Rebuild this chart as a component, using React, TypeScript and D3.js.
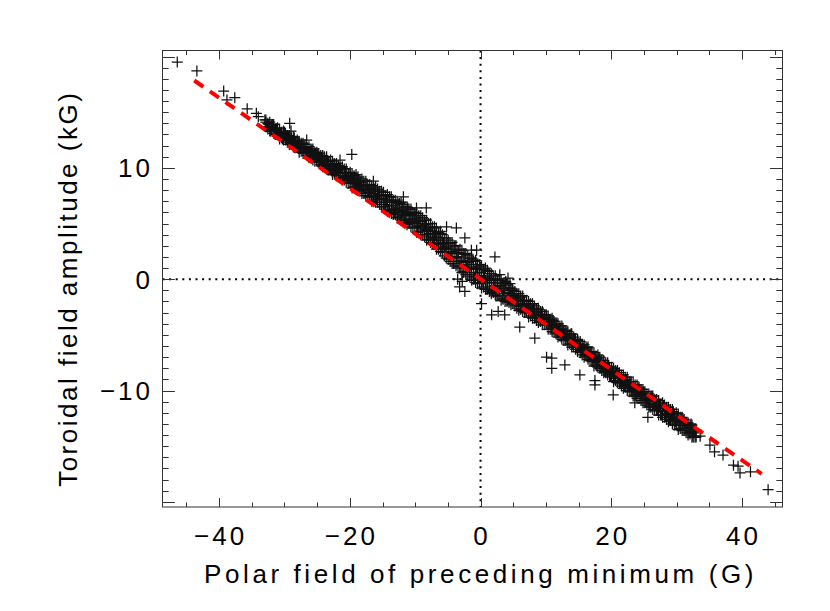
import React, { useEffect, useRef } from 'react';
import * as d3 from 'd3';

// polar field of the preceding minimum (G), one value per sample
const polarField = [
  // band, x < -25
  -33.0, -32.7, -32.4, -32.1, -31.8, -31.5, -31.2, -30.9, -30.6, -30.3, -30.0, -29.7, -29.4, -29.1,
  -28.8, -28.5, -28.2, -27.9, -27.6, -27.3, -27.0, -26.7, -26.4, -26.1, -25.8, -25.5, -25.2,
  // band, -25 .. -15
  -24.9, -24.65, -24.4, -24.15, -23.9, -23.65, -23.4, -23.15, -22.9, -22.65, -22.4, -22.15, -21.9, -21.65,
  -21.4, -21.15, -20.9, -20.65, -20.4, -20.15, -19.9, -19.65, -19.4, -19.15, -18.9, -18.65, -18.4, -18.15,
  -17.9, -17.65, -17.4, -17.15, -16.9, -16.65, -16.4, -16.15, -15.9, -15.65, -15.4, -15.15,
  // band, -15 .. -5
  -14.9, -14.65, -14.4, -14.15, -13.9, -13.65, -13.4, -13.15, -12.9, -12.65, -12.4, -12.15, -11.9, -11.65,
  -11.4, -11.15, -10.9, -10.65, -10.4, -10.15, -9.9, -9.65, -9.4, -9.15, -8.9, -8.65, -8.4, -8.15,
  -7.9, -7.65, -7.4, -7.15, -6.9, -6.65, -6.4, -6.15, -5.9, -5.65, -5.4, -5.15,
  // band, -5 .. 5
  -4.9, -4.65, -4.4, -4.15, -3.9, -3.65, -3.4, -3.15, -2.9, -2.65, -2.4, -2.15, -1.9, -1.65,
  -1.4, -1.15, -0.9, -0.65, -0.4, -0.15, 0.1, 0.35, 0.6, 0.85, 1.1, 1.35, 1.6, 1.85,
  2.1, 2.35, 2.6, 2.85, 3.1, 3.35, 3.6, 3.85, 4.1, 4.35, 4.6, 4.85,
  // band, 5 .. 15
  5.1, 5.35, 5.6, 5.85, 6.1, 6.35, 6.6, 6.85, 7.1, 7.35, 7.6, 7.85, 8.1, 8.35,
  8.6, 8.85, 9.1, 9.35, 9.6, 9.85, 10.1, 10.35, 10.6, 10.85, 11.1, 11.35, 11.6, 11.85,
  12.1, 12.35, 12.6, 12.85, 13.1, 13.35, 13.6, 13.85, 14.1, 14.35, 14.6, 14.85,
  // band, 15 .. 25
  15.1, 15.4, 15.7, 16.0, 16.3, 16.6, 16.9, 17.2, 17.5, 17.8, 18.1, 18.4, 18.7, 19.0,
  19.3, 19.6, 19.9, 20.2, 20.5, 20.8, 21.1, 21.4, 21.7, 22.0, 22.3, 22.6, 22.9, 23.2,
  23.5, 23.8, 24.1, 24.4, 24.7,
  // band, x > 25
  25.0, 25.3, 25.6, 25.9, 26.2, 26.5, 26.8, 27.1, 27.4, 27.7, 28.0, 28.3, 28.6, 28.9,
  29.2, 29.5, 29.8, 30.1, 30.4, 30.7, 31.0, 31.3, 31.6, 31.9, 32.2, 32.5, 32.8,
  // scattered points off the band
  -46.4, -43.4, -39.3, -38.8, -37.6, -35.7, -34.3, -34.0, -29.2, -29.0, -26.6, -21.5, -19.7, -16.4,
  -11.8, -9.8, -8.3, -5.2, -3.7, -2.4, -1.4, -0.6, 2.2, 2.95, 4.2, 4.5, -3.2, -2.4,
  -2.8, -3.5, 0.15, 1.7, 2.7, 3.7, 6.0, 8.3, 10.1, 10.9, 10.9, 12.9, 15.2, 17.5,
  17.5, 20.3, 23.6, 25.6, 32.5, 33.6, 35.1, 35.8, 37.1, 38.7, 39.4, 39.7, 41.3, 44.0,
];

// toroidal field amplitude (kG), same order as polarField
const toroidalField = [
  14.3, 13.7, 13.9, 13.3, 13.9, 13.4, 13.5, 13.0, 13.1, 12.6, 13.2, 12.6, 12.7, 12.2,
  12.4, 12.7, 12.0, 12.2, 11.8, 12.1, 11.9, 11.4, 11.5, 11.0, 11.6, 11.1, 11.2,

  11.2, 10.6, 10.8, 10.2, 11.0, 10.4, 10.6, 9.9, 10.1, 9.6, 10.4, 9.7, 9.9, 9.3,
  9.6, 10.0, 9.1, 9.5, 9.1, 9.5, 9.3, 8.7, 8.9, 8.3, 9.1, 8.5, 8.7, 8.0,
  8.3, 7.7, 8.5, 7.8, 8.0, 7.4, 7.7, 8.1, 7.2, 7.6, 7.2, 7.6,

  7.6, 6.7, 7.1, 6.2, 7.4, 6.6, 6.9, 6.0, 6.3, 5.6, 6.8, 5.8, 6.2, 5.3,
  5.9, 6.4, 5.2, 5.8, 5.3, 5.9, 5.7, 4.8, 5.2, 4.3, 5.5, 4.6, 4.9, 4.0,
  4.3, 3.5, 4.6, 3.7, 4.0, 3.1, 3.5, 4.1, 2.8, 3.3, 2.7, 3.2,

  3.2, 2.0, 2.5, 1.4, 3.0, 1.9, 2.4, 1.2, 1.6, 0.6, 2.2, 1.0, 1.5, 0.4,
  1.1, 1.8, 0.2, 1.0, 0.3, 1.1, 0.9, -0.2, 0.2, -0.9, 0.7, -0.3, 0.1, -1.0,
  -0.6, -1.5, 0.0, -1.1, -0.6, -1.7, -1.0, -0.2, -1.8, -1.0, -1.7, -0.9,

  -1.4, -2.0, -1.8, -2.4, -1.6, -2.2, -2.0, -2.7, -2.5, -3.0, -2.3, -2.9, -2.7, -3.3,
  -3.0, -2.7, -3.5, -3.2, -3.6, -3.2, -3.4, -4.0, -3.8, -4.4, -3.7, -4.3, -4.1, -4.8,
  -4.6, -5.2, -4.4, -5.1, -4.9, -5.5, -5.3, -4.9, -5.8, -5.5, -5.9, -5.5,

  -5.8, -6.4, -6.2, -6.8, -6.2, -6.8, -6.7, -7.3, -7.2, -7.8, -7.1, -7.8, -7.7, -8.3,
  -8.0, -7.8, -8.6, -8.3, -8.7, -8.4, -8.6, -9.2, -9.1, -9.6, -9.0, -9.6, -9.4, -10.1,
  -9.9, -10.5, -9.8, -10.4, -10.3,

  -10.2, -10.9, -10.7, -11.4, -10.5, -11.2, -11.0, -11.8, -11.5, -12.2, -11.4, -12.1, -11.9, -12.6,
  -12.2, -11.9, -12.8, -12.4, -12.9, -12.5, -12.7, -13.4, -13.2, -13.8, -13.0, -13.7, -13.5,

  19.5, 18.7, 16.9, 16.1, 16.3, 15.3, 14.9, 14.6, 14.0, 13.3, 12.5, 10.7, 11.2, 8.8,
  7.4, 6.4, 6.4, 4.7, 4.6, 3.7, 2.6, 2.6, 2.0, 0.4, 0.1, -0.4, -0.7, -1.1,
  -0.2, 0.0, -2.2, -3.2, -2.9, -3.2, -4.3, -5.3, -7.0, -7.1, -8.0, -7.7, -8.6, -9.1,
  -9.5, -10.4, -11.1, -12.4, -14.1, -14.1, -14.9, -15.5, -15.8, -16.7, -16.8, -17.4, -17.3, -18.9,
];

// the dense band: further samples along its upper side, middle and lower side
const bandPolar = [
  -32.85, -32.55, -32.25, -31.95, -31.65, -31.35, -31.05, -30.75, -30.45, -30.15, -29.85, -29.55, -29.25, -28.95,
  -28.65, -28.35, -28.05, -27.75, -27.45, -27.15, -26.85, -26.55, -26.25, -25.95, -25.65, -25.35, -25.05,
  -24.75, -24.45, -24.15, -23.85, -23.55, -23.25, -22.95, -22.65, -22.35, -22.05, -21.75, -21.45, -21.15, -20.85,
  -20.55, -20.25, -19.95, -19.65, -19.35, -19.05, -18.75, -18.45, -18.15, -17.85, -17.55, -17.25, -16.95, -16.65,
  -16.35, -16.05, -15.75, -15.45, -15.15,
  -14.85, -14.55, -14.25, -13.95, -13.65, -13.35, -13.05, -12.75, -12.45, -12.15, -11.85, -11.55, -11.25, -10.95,
  -10.65, -10.35, -10.05, -9.75, -9.45, -9.15, -8.85, -8.55, -8.25, -7.95, -7.65, -7.35, -7.05, -6.75,
  -6.45, -6.15, -5.85, -5.55, -5.25,
  -4.95, -4.65, -4.35, -4.05, -3.75, -3.45, -3.15, -2.85, -2.55, -2.25, -1.95, -1.65, -1.35, -1.05,
  -0.75, -0.45, -0.15, 0.15, 0.45, 0.75, 1.05, 1.35, 1.65, 1.95, 2.25, 2.55, 2.85, 3.15,
  3.45, 3.75, 4.05, 4.35, 4.65, 4.95,
  5.25, 5.55, 5.85, 6.15, 6.45, 6.75, 7.05, 7.35, 7.65, 7.95, 8.25, 8.55, 8.85, 9.15,
  9.45, 9.75, 10.05, 10.35, 10.65, 10.95, 11.25, 11.55, 11.85, 12.15, 12.45, 12.75, 13.05, 13.35,
  13.65, 13.95, 14.25, 14.55, 14.85,
  15.25, 15.55, 15.85, 16.15, 16.45, 16.75, 17.05, 17.35, 17.65, 17.95, 18.25, 18.55, 18.85, 19.15,
  19.45, 19.75, 20.05, 20.35, 20.65, 20.95, 21.25, 21.55, 21.85, 22.15, 22.45, 22.75, 23.05, 23.35,
  23.65, 23.95, 24.25, 24.55, 24.85,
  25.15, 25.45, 25.75, 26.05, 26.35, 26.65, 26.95, 27.25, 27.55, 27.85, 28.15, 28.45, 28.75, 29.05,
  29.35, 29.65, 29.95, 30.25, 30.55, 30.85, 31.15, 31.45, 31.75, 32.05, 32.35, 32.65, 32.95,
];

const bandUpper = [
  14.3, 14.0, 14.1, 13.9, 13.9, 13.5, 13.6, 13.5, 13.2, 13.3, 13.1, 12.9, 12.9, 12.7,
  12.8, 12.4, 12.5, 12.4, 12.2, 12.2, 12.1, 11.8, 11.9, 11.7, 11.7, 11.4, 11.4,
  11.3, 11.1, 11.1, 10.9, 11.0, 10.6, 10.7, 10.6, 10.3, 10.4, 10.2, 10.0, 10.1, 9.9,
  9.9, 9.5, 9.6, 9.5, 9.3, 9.4, 9.2, 8.9, 9.0, 8.8, 8.8, 8.5, 8.5, 8.4,
  8.2, 8.3, 8.1, 7.9, 7.9,
  7.8, 7.5, 7.6, 7.4, 7.4, 7.1, 7.1, 7.0, 6.8, 6.9, 6.7, 6.5, 6.5, 6.3,
  6.3, 6.0, 6.0, 5.9, 5.7, 5.7, 5.5, 5.3, 5.3, 5.0, 5.0, 4.7, 4.7, 4.6,
  4.2, 4.3, 4.0, 3.7, 3.7,
  3.5, 3.2, 3.3, 3.0, 3.0, 2.6, 2.7, 2.6, 2.3, 2.3, 2.1, 1.9, 1.9, 1.6,
  1.7, 1.3, 1.3, 1.2, 0.9, 1.0, 0.8, 0.5, 0.5, 0.3, 0.3, -0.1, 0.0, -0.1,
  -0.4, -0.3, -0.5, -0.8, -0.8, -1.0,
  -1.1, -1.3, -1.3, -1.5, -1.5, -1.9, -1.9, -2.0, -2.2, -2.2, -2.4, -2.7, -2.6, -2.9,
  -2.9, -3.2, -3.2, -3.3, -3.6, -3.5, -3.8, -4.0, -4.0, -4.2, -4.2, -4.6, -4.6, -4.7,
  -5.0, -4.9, -5.2, -5.4, -5.4,
  -5.6, -5.9, -5.9, -6.1, -6.1, -6.5, -6.5, -6.6, -6.9, -6.8, -7.0, -7.3, -7.3, -7.5,
  -7.5, -7.9, -7.9, -8.0, -8.2, -8.2, -8.4, -8.6, -8.6, -8.8, -8.8, -9.2, -9.2, -9.2,
  -9.5, -9.5, -9.7, -9.9, -9.9,
  -10.1, -10.3, -10.3, -10.5, -10.5, -10.8, -10.8, -10.9, -11.2, -11.1, -11.3, -11.5, -11.5, -11.7,
  -11.7, -12.1, -12.0, -12.1, -12.4, -12.4, -12.6, -12.9, -12.9, -13.1, -13.1, -13.5, -13.5,
];

const bandMiddle = [
  14.1, 13.7, 13.7, 13.7, 13.4, 13.4, 13.1, 13.2, 13.0, 12.8, 12.9, 12.5, 12.5, 12.6,
  12.3, 12.2, 11.9, 12.1, 11.9, 11.6, 11.7, 11.4, 11.4, 11.5, 11.1, 11.1, 10.8,
  11.0, 10.6, 10.6, 10.7, 10.3, 10.3, 10.0, 10.2, 9.9, 9.7, 9.8, 9.5, 9.5, 9.5,
  9.2, 9.2, 8.9, 9.0, 8.8, 8.6, 8.7, 8.4, 8.3, 8.4, 8.1, 8.1, 7.7, 7.9,
  7.7, 7.4, 7.5, 7.2, 7.2,
  7.2, 6.9, 6.9, 6.9, 6.6, 6.6, 6.3, 6.4, 6.2, 6.0, 6.1, 5.7, 5.7, 5.8,
  5.4, 5.4, 5.1, 5.2, 5.0, 4.7, 4.8, 4.5, 4.4, 4.4, 4.1, 4.1, 3.7, 3.8,
  3.5, 3.2, 3.3, 2.9, 2.8,
  2.7, 2.4, 2.3, 2.4, 2.0, 2.0, 1.6, 1.7, 1.5, 1.3, 1.3, 1.0, 0.9, 0.9,
  0.6, 0.6, 0.2, 0.3, 0.1, -0.1, 0.0, -0.3, -0.3, -0.3, -0.6, -0.6, -1.0, -0.8,
  -1.0, -1.3, -1.2, -1.5, -1.5, -1.5,
  -1.7, -2.0, -2.0, -2.0, -2.3, -2.3, -2.6, -2.5, -2.7, -3.0, -2.9, -3.2, -3.2, -3.2,
  -3.5, -3.5, -3.9, -3.8, -4.0, -4.2, -4.2, -4.5, -4.6, -4.5, -4.9, -4.9, -5.3, -5.1,
  -5.4, -5.6, -5.6, -5.9, -5.9,
  -6.0, -6.4, -6.4, -6.4, -6.7, -6.8, -7.1, -7.0, -7.2, -7.5, -7.4, -7.8, -7.8, -7.8,
  -8.1, -8.2, -8.5, -8.4, -8.6, -8.9, -8.8, -9.1, -9.2, -9.1, -9.5, -9.5, -9.8, -9.7,
  -10.0, -10.2, -10.1, -10.5, -10.5,
  -10.5, -10.8, -10.9, -10.8, -11.2, -11.2, -11.5, -11.4, -11.6, -11.8, -11.8, -12.1, -12.1, -12.1,
  -12.4, -12.5, -12.8, -12.7, -12.9, -13.1, -13.1, -13.4, -13.4, -13.4, -13.7, -13.8, -14.1,
];

const bandLower = [
  13.7, 13.5, 13.3, 13.4, 13.1, 13.0, 13.0, 12.6, 12.7, 12.5, 12.5, 12.3, 12.1, 12.1,
  11.9, 11.8, 11.8, 11.4, 11.5, 11.3, 11.3, 11.1, 10.9, 11.0, 10.7, 10.6, 10.6,
  10.5, 10.3, 10.1, 10.1, 9.9, 9.8, 9.8, 9.4, 9.5, 9.3, 9.3, 9.1, 8.9, 8.9,
  8.7, 8.6, 8.6, 8.2, 8.3, 8.1, 8.1, 7.9, 7.7, 7.7, 7.5, 7.4, 7.4, 7.0,
  7.1, 6.9, 6.9, 6.7, 6.5,
  6.5, 6.3, 6.1, 6.2, 5.9, 5.8, 5.8, 5.5, 5.5, 5.3, 5.3, 5.1, 4.9, 5.0,
  4.7, 4.6, 4.6, 4.2, 4.3, 4.0, 4.0, 3.8, 3.5, 3.6, 3.3, 3.2, 3.2, 2.7,
  2.7, 2.5, 2.4, 2.1, 1.9,
  1.8, 1.6, 1.4, 1.4, 1.2, 1.1, 1.0, 0.6, 0.7, 0.4, 0.4, 0.2, -0.1, 0.0,
  -0.3, -0.4, -0.4, -0.8, -0.7, -0.9, -0.9, -1.1, -1.3, -1.2, -1.4, -1.5, -1.5, -1.9,
  -1.8, -2.0, -2.0, -2.1, -2.3, -2.2,
  -2.4, -2.6, -2.8, -2.7, -2.9, -3.0, -3.0, -3.4, -3.3, -3.5, -3.5, -3.7, -3.9, -3.8,
  -4.1, -4.1, -4.1, -4.5, -4.5, -4.7, -4.7, -4.9, -5.2, -5.1, -5.4, -5.5, -5.5, -5.9,
  -5.8, -6.1, -6.1, -6.3, -6.5,
  -6.6, -6.8, -7.0, -6.9, -7.2, -7.3, -7.4, -7.8, -7.7, -7.9, -8.0, -8.2, -8.4, -8.4,
  -8.6, -8.7, -8.8, -9.2, -9.1, -9.3, -9.4, -9.6, -9.8, -9.7, -10.0, -10.1, -10.1, -10.5,
  -10.4, -10.7, -10.7, -10.9, -11.1,
  -11.1, -11.3, -11.5, -11.5, -11.7, -11.8, -11.8, -12.2, -12.2, -12.4, -12.4, -12.6, -12.8, -12.7,
  -13.0, -13.1, -13.1, -13.5, -13.4, -13.6, -13.6, -13.8, -14.0, -13.9, -14.2, -14.2, -14.2,
];

// linear fit (red dashed)
const fitSlope = -0.407;
const fitIntercept = 0.02;
const fitRange = [-43.8, 43.0];

const xTickLabels = [-40, -20, 0, 20, 40];
const yTickLabels = [-10, 0, 10];
const xTitle = 'Polar field of preceding minimum (G)';
const yTitle = 'Toroidal field amplitude (kG)';

const FONT = '"Liberation Sans", Arial, sans-serif';

function App() {
  const svgRef = useRef(null);

  useEffect(() => {
    const svg = d3.select(svgRef.current);
    svg.selectAll('*').remove();

    const left = 162.5, right = 782.5, top = 50.5, bottom = 507;

    const x = d3.scaleLinear().domain([-48.66, 46.2]).range([left, right]);
    const y = d3.scaleLinear().domain([-20.46, 20.54]).range([bottom, top]);

    // zero lines
    svg.append('line')
      .attr('x1', left).attr('x2', right)
      .attr('y1', y(0)).attr('y2', y(0))
      .attr('stroke', '#000').attr('stroke-width', 2)
      .attr('stroke-dasharray', '2 4.6');
    svg.append('line')
      .attr('x1', x(0)).attr('x2', x(0))
      .attr('y1', top).attr('y2', bottom)
      .attr('stroke', '#000').attr('stroke-width', 2)
      .attr('stroke-dasharray', '2 4.6');

    // crosses
    const pts = d3.zip(polarField, toroidalField)
      .concat(d3.zip(bandPolar, bandUpper))
      .concat(d3.zip(bandPolar, bandMiddle))
      .concat(d3.zip(bandPolar, bandLower));
    const r = 5.5;
    svg.append('g')
      .selectAll('path')
      .data(pts)
      .enter()
      .append('path')
      .attr('d', d => {
        const px = x(d[0]), py = y(d[1]);
        return `M${px - r},${py}H${px + r}M${px},${py - r}V${py + r}`;
      })
      .attr('stroke', '#111')
      .attr('stroke-width', 1.25)
      .attr('fill', 'none');

    // fit line
    const line = d3.line()
      .x(d => x(d))
      .y(d => y(fitSlope * d + fitIntercept));
    svg.append('path')
      .datum(fitRange)
      .attr('d', line)
      .attr('fill', 'none')
      .attr('stroke', '#ff0000')
      .attr('stroke-width', 4)
      .attr('stroke-dasharray', '11 8');

    // frame
    const axisColor = '#333';
    svg.append('rect')
      .attr('x', left).attr('y', top)
      .attr('width', right - left).attr('height', bottom - top)
      .attr('fill', 'none').attr('stroke', axisColor).attr('stroke-width', 1);

    const ticks = svg.append('g').attr('stroke', axisColor).attr('stroke-width', 1);
    d3.range(-45, 46, 5).forEach(v => {
      const len = v % 20 === 0 ? 9 : 4.5;
      const px = Math.round(x(v)) + 0.5;
      ticks.append('line').attr('x1', px).attr('x2', px).attr('y1', bottom).attr('y2', bottom - len);
      ticks.append('line').attr('x1', px).attr('x2', px).attr('y1', top).attr('y2', top + len);
    });
    d3.range(-20, 21, 1).forEach(v => {
      const len = v % 10 === 0 ? 12.4 : 6.2;
      const py = Math.round(y(v)) + 0.5;
      ticks.append('line').attr('x1', left).attr('x2', left + len).attr('y1', py).attr('y2', py);
      ticks.append('line').attr('x1', right).attr('x2', right - len).attr('y1', py).attr('y2', py);
    });

    const fmt = (v: number) => (v < 0 ? '\u2212' + Math.abs(v) : String(v));

    svg.append('g')
      .selectAll('text')
      .data(xTickLabels)
      .enter()
      .append('text')
      .attr('x', d => x(d) + 1.5)
      .attr('y', 545)
      .attr('text-anchor', 'middle')
      .attr('font-family', FONT)
      .attr('font-size', 26)
      .attr('letter-spacing', 3)
      .attr('fill', '#000')
      .text(d => fmt(d));

    svg.append('g')
      .selectAll('text')
      .data(yTickLabels)
      .enter()
      .append('text')
      .attr('x', 153)
      .attr('y', d => y(d) + 9.5)
      .attr('text-anchor', 'end')
      .attr('font-family', FONT)
      .attr('font-size', 26)
      .attr('letter-spacing', 3)
      .attr('fill', '#000')
      .text(d => fmt(d));

    svg.append('text')
      .attr('x', (left + right) / 2 + 8)
      .attr('y', 583)
      .attr('text-anchor', 'middle')
      .attr('font-family', FONT)
      .attr('font-size', 26)
      .attr('letter-spacing', 3.6)
      .attr('fill', '#000')
      .text(xTitle);

    svg.append('text')
      .attr('transform', `translate(77, ${(top + bottom) / 2 + 10}) rotate(-90)`)
      .attr('text-anchor', 'middle')
      .attr('font-family', FONT)
      .attr('font-size', 26)
      .attr('letter-spacing', 2.5)
      .attr('fill', '#000')
      .text(yTitle);
  }, []);

  return (
    <svg
      ref={svgRef}
      width={830}
      height={611}
      style={{ position: 'absolute', left: 0, top: 0, background: '#fff' }}
    />
  );
}

export default App;
